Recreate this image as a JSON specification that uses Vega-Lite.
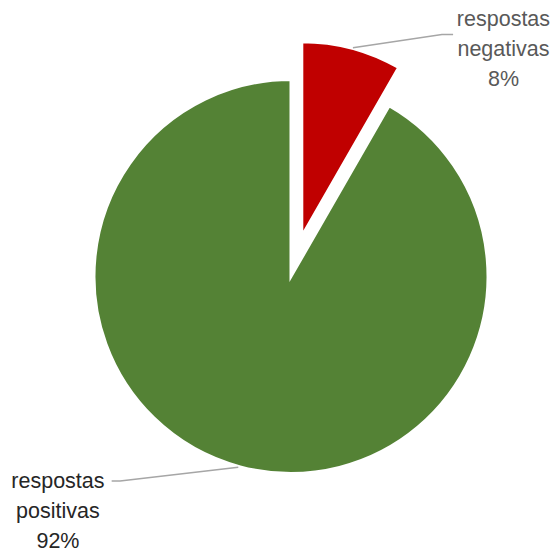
{
  "$schema": "https://vega.github.io/schema/vega-lite/v6.json",
  "width": 530,
  "height": 549,
  "autosize": {"type": "none"},
  "padding": {"left": 26, "top": 2, "right": 0, "bottom": 0},
  "background": "white",
  "config": {"view": {"stroke": null}},
  "datasets": {
    "fatias": [
      {"categoria": "respostas negativas", "valor": 8.3},
      {"categoria": "respostas positivas", "valor": 91.7}
    ],
    "guias": [
      {"guia": "negativas", "ponto": 1, "u": 0.316, "v": 1.167},
      {"guia": "negativas", "ponto": 2, "u": 0.770, "v": 1.235},
      {"guia": "negativas", "ponto": 3, "u": 0.827, "v": 1.235},
      {"guia": "positivas", "ponto": 1, "u": -0.269, "v": -0.973},
      {"guia": "positivas", "ponto": 2, "u": -0.872, "v": -1.043},
      {"guia": "positivas", "ponto": 3, "u": -0.915, "v": -1.043}
    ],
    "rotulos": [
      {"categoria": "respostas negativas", "texto": "respostas\nnegativas\n8%", "u": 1.084, "v": 1.307},
      {"categoria": "respostas positivas", "texto": "respostas\npositivas\n92%", "u": -1.189, "v": -1.047}
    ]
  },
  "layer": [
    {
      "data": {"name": "fatias"},
      "transform": [
        {"stack": "valor", "groupby": [], "sort": [{"field": "valor", "order": "ascending"}], "as": ["inicio", "fim"]},
        {"filter": "datum.categoria === 'respostas positivas'"}
      ],
      "mark": {"type": "arc", "outerRadius": 197, "stroke": "white", "strokeWidth": 3, "fill": "#548235"},
      "encoding": {
        "theta": {"field": "inicio", "type": "quantitative", "scale": {"domain": [0, 100]}},
        "theta2": {"field": "fim"}
      }
    },
    {
      "data": {"name": "fatias"},
      "transform": [
        {"stack": "valor", "groupby": [], "sort": [{"field": "valor", "order": "ascending"}], "as": ["inicio", "fim"]},
        {"filter": "datum.categoria === 'respostas negativas'"}
      ],
      "mark": {"type": "arc", "outerRadius": 194.5, "stroke": "white", "strokeWidth": 3, "fill": "#c00000", "xOffset": 10.8, "yOffset": -40.3},
      "encoding": {
        "theta": {"field": "inicio", "type": "quantitative", "scale": {"domain": [0, 100]}},
        "theta2": {"field": "fim"}
      }
    },
    {
      "data": {"name": "guias"},
      "mark": {"type": "line", "stroke": "#a6a6a6", "strokeWidth": 1.5},
      "encoding": {
        "x": {"field": "u", "type": "quantitative", "scale": {"domain": [-1.352, 1.352], "nice": false, "zero": false}, "axis": null},
        "y": {"field": "v", "type": "quantitative", "scale": {"domain": [-1.4005, 1.4005], "nice": false, "zero": false}, "axis": null},
        "detail": {"field": "guia"},
        "order": {"field": "ponto"}
      }
    },
    {
      "data": {"name": "rotulos"},
      "mark": {"type": "text", "font": "Liberation Sans, Arial, sans-serif", "fontSize": 21.5, "lineBreak": "\n", "lineHeight": 30, "align": "center", "baseline": "middle"},
      "encoding": {
        "x": {"field": "u", "type": "quantitative", "scale": {"domain": [-1.352, 1.352], "nice": false, "zero": false}, "axis": null},
        "y": {"field": "v", "type": "quantitative", "scale": {"domain": [-1.4005, 1.4005], "nice": false, "zero": false}, "axis": null},
        "text": {"field": "texto"},
        "color": {"field": "categoria", "type": "nominal", "scale": {"domain": ["respostas negativas", "respostas positivas"], "range": ["#595959", "#262626"]}, "legend": null}
      }
    }
  ]
}
